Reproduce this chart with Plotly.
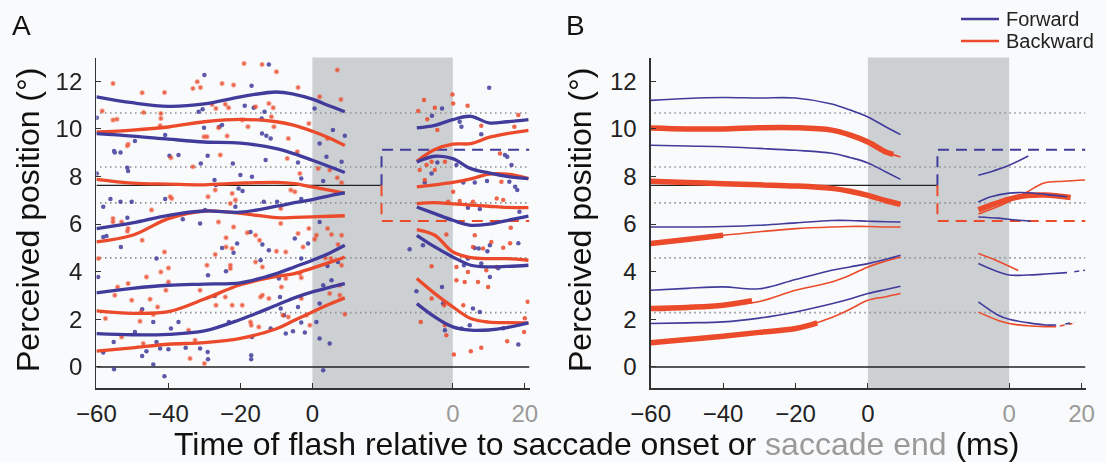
import plotly.graph_objects as go

# ---------------- constants of the layout of the time axis ----------------
GAP = 39.0          # saccade duration (ms) shown as the gray band
AX_END_A = 60.3
AX_END_B = 60.1

# ---------------- reference levels (deg) ----------------
TARGET_LEVELS = [10.67, 8.40, 6.89, 4.58, 2.28]
FIX_LEVEL = 7.63
FWD_LEVEL = 9.12
BWD_LEVEL = 6.13
STEP_T = 19.2

# ---------------- Panel A: smoothed fits ----------------
PRE_T = [-60, -50, -40, -30, -20, -10, -5, 0, 5, 9]
A_PRE_BLUE = [
    [11.35, 11.10, 10.95, 11.05, 11.35, 11.55, 11.45, 11.25, 10.95, 10.72],
    [9.80, 9.70, 9.57, 9.45, 9.40, 9.17, 8.95, 8.68, 8.40, 8.17],
    [5.81, 6.05, 6.37, 6.55, 6.50, 6.75, 6.90, 7.03, 7.20, 7.31],
    [3.11, 3.30, 3.43, 3.48, 3.53, 3.92, 4.20, 4.48, 4.80, 5.11],
    [1.40, 1.35, 1.37, 1.51, 1.99, 2.59, 2.90, 3.15, 3.35, 3.50],
]
A_PRE_RED = [
    [9.87, 9.95, 10.08, 10.30, 10.40, 10.30, 10.15, 9.90, 9.60, 9.30],
    [7.88, 7.72, 7.68, 7.65, 7.72, 7.75, 7.70, 7.56, 7.42, 7.30],
    [5.25, 5.53, 6.23, 6.55, 6.45, 6.27, 6.28, 6.30, 6.33, 6.35],
    [2.35, 2.25, 2.32, 2.85, 3.45, 3.80, 3.92, 4.15, 4.40, 4.62],
    [0.66, 0.80, 0.95, 1.02, 1.20, 1.60, 1.96, 2.31, 2.65, 2.90],
]
POST_T = [-10, -5, 0, 5, 10, 15, 21]
A_POST_BLUE = [
    [10.04, 10.15, 10.39, 10.53, 10.25, 10.30, 10.39],
    [8.61, 8.85, 8.75, 8.33, 8.15, 8.00, 7.91],
    [6.72, 6.44, 6.16, 5.95, 6.00, 6.15, 6.33],
    [5.53, 5.04, 4.62, 4.27, 4.20, 4.22, 4.27],
    [2.66, 2.10, 1.68, 1.54, 1.55, 1.65, 1.85],
]
A_POST_RED = [
    [8.64, 9.13, 9.36, 9.38, 9.64, 9.80, 9.94],
    [7.56, 7.65, 7.75, 7.90, 8.10, 8.10, 7.91],
    [6.86, 6.90, 6.85, 6.80, 6.75, 6.70, 6.69],
    [5.77, 5.53, 4.83, 4.59, 4.55, 4.55, 4.48],
    [3.71, 3.08, 2.52, 2.03, 1.88, 1.86, 1.85],
]

# ---------------- Panel A: single-trial data points ----------------
A_PRE_BLUE_T = [-30.0, -12.1, -16.9, -59.9, -31.6, -30.5, -18.8, -16.3, -14.1, -13.3, -30.1, -25.8, -25.1, -40.9,
                -49.3, -55.1, -54.9, -53.3, -14.0, -12.8, -11.6, -37.2, -39.7, -29.1, -31.0, -22.1, -13.0, -51.4,
                -51.2, -59.9, -20.0, -16.8, -27.2, -26.8, -20.5, -19.4, -40.9, -56.1, -58.1, -53.3, -50.2, -21.4,
                -13.5, -29.8, -9.8, -51.4,
                -58.1, -57.2, -53.2, -59.5, -43.3, -47.3, -44.2, -49.3, -55.2, -58.1, -47.3, -46.1, -43.3, -42.3,
                -40.0, -44.2, -55.1, -41.1, -37.2, -39.3, -35.2, -31.2, -29.1, -29.0, -27.2, -25.1, -21.9, -20.9,
                -24.0, -29.0, -36.0, -31.2, -13.9, -12.1, -14.4, -16.8, -17.0, -17.0, -23.2, -9.3, -9.0, -8.8,
                -7.4, -7.9, -11.6, -17.2,
                0.6, 5.7, 2.0, 9.0, 3.9, 8.1, -4.0, -3.1, 3.0, -3.1,
                2.0, -4.9, -1.2, -3.1, 4.2, 7.1, 5.3, 3.0, -4.0, 2.0, 1.1, -3.1, -5.4, -2.1, 2.0, 4.8, 3.0]
A_PRE_BLUE_Y = [12.26, 12.71, 11.81, 10.47, 10.72, 10.83, 10.97, 10.89, 10.44, 10.72, 10.05, 10.09, 10.16, 9.74,
                9.49, 9.07, 9.01, 9.01, 9.81, 9.71, 9.60, 8.90, 8.87, 8.87, 8.55, 8.55, 8.69, 8.37,
                8.23, 8.13, 8.06, 7.99, 7.85, 7.64, 7.50, 7.39, 7.05, 7.05, 6.73, 6.94, 6.94, 6.73,
                6.94, 6.59, 6.94, 6.27,
                5.46, 5.50, 5.04, 3.78, 4.55, 2.42, 1.89, 1.47, 1.05, 0.60, 0.46, 0.66, 1.05, 0.77,
                0.74, 0.10, -0.10, -0.39, 1.89, 1.61, 0.80, 0.77, 0.63, 0.32, 2.98, 5.00, 4.80, 5.18,
                4.02, 3.85, 6.20, 6.02, 5.14, 4.90, 4.48, 1.26, 0.49, 0.32, 1.89, 3.71, 2.94, 2.45,
                1.40, 2.17, 1.61, 5.67,
                10.86, 9.95, 9.39, 9.71, 8.83, 8.62, 8.59, 7.92, 7.81, 7.05,
                6.09, 5.39, 5.18, 4.55, 4.24, 4.41, 3.64, 3.43, 2.52, 2.66, 1.89, 1.86, 1.50, 1.44, 1.19, 0.98, -0.14]

A_PRE_RED_T = [-55.4, -47.3, -41.1, -33.2, -32.0, -31.1, -25.1, -21.9, -19.0, -14.0, -10.0, -58.4, -54.3, -55.4,
               -46.9, -42.1, -42.1, -42.3, -27.9, -26.8, -26.1, -24.2, -23.3, -19.5, -17.9, -15.8, -12.1, -10.9,
               -11.4, -10.7, -6.7, -51.2, -51.4, -39.3, -30.1, -29.3, -23.7, -25.6, -33.2, -7.0, -39.5, -39.1,
               -29.0, -27.0, -22.8, -22.3, -21.4, -55.4, -44.7, -8.8, -6.0,
               -51.2, -51.4, -47.3, -55.4, -53.0, -41.1, -59.4, -40.0, -42.1, -46.1, -51.2, -54.1, -54.9, -50.2,
               -45.1, -43.0, -57.5, -47.9, -44.2, -53.0, -47.0, -34.0, -30.0, -32.6, -34.4, -24.0, -24.0, -27.0,
               -22.3, -22.8, -22.8, -29.3, -31.2, -27.0, -26.8, -24.2, -22.3, -19.5, -18.1, -15.8, -14.7, -15.8,
               -13.9, -14.4, -13.9, -17.2, -17.0, -14.9, -12.1, -10.0, -8.8, -7.4, -7.4, -8.6, -8.2, -6.7,
               -21.9, -26.1, -40.0, -40.7, -47.6,
               6.9, -4.0, 2.0, 7.9, -1.0, 4.2, -4.2, -3.5, 1.6, 4.8, 6.9, 8.1, -4.9, 6.7,
               -4.0, -1.0, -2.6, 1.1, 0.6, 4.2, 5.3, 8.1, 7.1, 3.6, 5.1, -3.5, 8.1, -3.1, 4.8, 7.6, 7.6, -3.1,
               9.0, -1.7, -0.7]
A_PRE_RED_Y = [11.91, 11.52, 11.53, 11.70, 11.98, 11.74, 11.91, 11.84, 12.75, 12.71, 12.40, 10.75, 10.41, 10.37,
               10.69, 10.65, 10.44, 10.13, 11.03, 10.86, 10.05, 11.04, 10.89, 10.37, 10.09, 10.93, 11.07, 10.89,
               10.51, 10.09, 9.60, 9.35, 9.29, 8.79, 9.67, 9.67, 9.70, 8.90, 8.41, 8.76, 7.15, 7.08,
               7.15, 7.43, 6.87, 7.29, 7.01, 6.24, 6.59, 6.66, 7.43,
               5.81, 5.70, 5.32, 6.09, 6.09, 4.83, 4.55, 4.16, 3.99, 3.78, 3.50, 3.36, 3.01, 2.80,
               2.84, 2.52, 2.03, 1.92, 2.20, 1.26, 0.98, 0.35, 0.14, 1.12, 1.54, 5.43, 5.04, 4.72,
               4.97, 4.27, 4.13, 4.27, 3.22, 3.01, 2.59, 2.94, 2.59, 2.59, 5.64, 5.53, 5.32, 4.41,
               4.20, 2.94, 3.01, 1.89, 1.75, 1.68, 2.87, 4.86, 6.02, 4.83, 3.71, 3.36, 2.17, 2.10,
               5.88, 6.09, 3.57, 3.22, 2.31,
               12.47, 11.74, 11.35, 11.24, 10.23, 9.60, 9.04, 8.13, 8.34, 8.27, 7.95, 7.74, 7.36, 7.33,
               5.60, 5.81, 5.04, 5.53, 5.36, 5.81, 5.56, 5.53, 5.14, 4.58, 4.55, 3.92, 4.27, 3.74, 3.08, 3.43, 3.01, 2.87,
               2.21, 2.17, 1.75]

A_POST_BLUE_T = [-5.8, -3.0, 10.1, 1.9, 2.4, 7.9, -4.3, 1.0, -5.9, -7.8, 2.9, 6.1, 9.5, 4.2, 7.5,
                 -12.0, -8.3, 6.1, 7.2, 9.6, 10.3, 4.2, 3.1, 7.9, 10.3, -10.1, -3.0, -2.7, 5.6, 7.5, -2.2, 2.4, 4.7,
                 14.5, 15.1, 16.3, 17.3, 17.9, 15.7, 18.5, 18.2, 12.6, 18.2, 14.0]
A_POST_BLUE_Y = [10.55, 10.86, 11.73, 10.30, 10.09, 9.77, 8.59, 8.48, 8.13, 7.75, 7.75, 7.75, 7.81, 6.69, 6.63,
                 4.94, 5.11, 5.00, 4.97, 4.86, 5.11, 4.55, 4.27, 4.34, 3.78, 3.18, 3.36, 2.66, 2.45, 2.31, 1.54, 1.61, 1.75,
                 8.90, 8.83, 8.48, 7.57, 7.43, 7.78, 6.52, 5.19, 4.14, 0.94, 1.62]
A_POST_RED_T = [-8.0, -5.0, -7.1, -9.6, -0.1, 0.1, 4.1, -4.3, 7.9, -5.9, -2.2, -7.3, -9.2, -5.0, 0.1, -7.8,
                -1.3, 1.9, 5.6,
                -1.8, 6.1, -5.9, 1.0, 5.6, 8.4, 10.7, 4.2, 9.3, 12.1, 1.0, 3.3, 7.0, 9.8, -5.9, -2.4, 2.9, -8.9,
                -2.2, -1.8, 0.3, 5.0, 7.9,
                18.2, 17.1, 13.1, 13.5, 12.2, 14.0, 16.1, 15.9, 14.0, 20.8, 20.0, 19.8, 15.1]
A_POST_RED_Y = [11.21, 10.89, 10.41, 10.75, 11.45, 11.07, 10.97, 9.95, 10.13, 8.62, 8.62, 8.48, 8.27, 8.27, 7.36, 7.85,
                6.94, 6.97, 6.94,
                5.56, 5.53, 4.23, 4.20, 5.04, 4.97, 5.25, 3.99, 4.06, 4.20, 3.64, 3.57, 3.57, 3.36, 2.87, 2.59, 2.59, 1.89,
                1.75, 1.33, 0.52, 0.66, 0.80,
                10.58, 10.09, 8.97, 7.78, 7.08, 7.01, 5.85, 5.19, 5.01, 2.74, 2.04, 1.47, 1.08]

# ---------------- Panel B: model curves ----------------
B_PRE_BLUE = [
    [11.20, 11.28, 11.32, 11.30, 11.30, 11.05, 10.80, 10.50, 10.08, 9.76],
    [9.31, 9.28, 9.25, 9.18, 9.10, 8.98, 8.80, 8.57, 8.19, 7.88],
    [5.88, 5.88, 5.90, 5.95, 6.05, 6.15, 6.15, 6.12, 6.10, 6.09],
    [3.22, 3.30, 3.36, 3.28, 3.67, 4.06, 4.20, 4.34, 4.52, 4.69],
    [1.82, 1.85, 1.89, 2.05, 2.31, 2.65, 2.85, 3.08, 3.25, 3.39],
]
B_PRE_RED = [
    [10.04, 10.00, 10.00, 10.05, 10.05, 9.95, 9.75, 9.45, 9.03, 8.82],
    [7.80, 7.75, 7.70, 7.65, 7.60, 7.50, 7.38, 7.21, 6.98, 6.83],
    [5.18, 5.35, 5.53, 5.68, 5.81, 5.88, 5.90, 5.90, 5.88, 5.88],
    [2.45, 2.50, 2.59, 2.75, 3.22, 3.57, 3.85, 4.20, 4.45, 4.62],
    [1.01, 1.15, 1.29, 1.45, 1.61, 2.08, 2.42, 2.80, 2.95, 3.08],
]
# thick (significant) stretches of the red curves
B_THICK_T = [
    [-60, -50, -40, -30, -20, -10, -5, 0, 5, 7],
    [-60, -50, -40, -30, -20, -10, -5, 0, 5, 9],
    [-60, -50, -40],
    [-60, -50, -40, -32],
    [-60, -50, -40, -30, -20, -14],
]
B_THICK_Y = [
    [10.04, 10.00, 10.00, 10.05, 10.05, 9.95, 9.75, 9.45, 9.03, 8.93],
    [7.80, 7.75, 7.70, 7.65, 7.60, 7.50, 7.38, 7.21, 6.98, 6.83],
    [5.18, 5.35, 5.53],
    [2.45, 2.50, 2.59, 2.78],
    [1.01, 1.15, 1.29, 1.45, 1.61, 1.85],
]
# post-saccadic pieces (t relative to saccade end)
B_POST_BLUE_T = [[-8.5, -5, 0, 5.3], [-8.5, -5, 0, 5, 10, 16], [-8.5, -3, 2, 6],
                 [-8.5, -4, 0, 5, 10, 16], [-8.5, -3, 0, 5, 10, 13]]
B_POST_BLUE_Y = [[8.05, 8.20, 8.47, 8.86], [6.93, 7.15, 7.30, 7.32, 7.25, 7.15], [6.30, 6.25, 6.17, 6.12],
                 [4.34, 4.05, 3.86, 3.86, 3.90, 3.96], [2.73, 2.17, 2.00, 1.86, 1.76, 1.76]]
B_POST_RED_T = [[-8.5, -5, 0, 5, 9.5, 15, 21], [-8.5, -4, 2.5], [-8.5, -3, 0, 5, 10, 13]]
B_POST_RED_Y = [[6.42, 6.62, 6.95, 7.35, 7.72, 7.80, 7.85], [4.76, 4.50, 4.05],
                [2.30, 1.95, 1.82, 1.73, 1.69, 1.69]]
B_POST_RED_THICK_T = [-8.5, -5, 0, 5, 10, 17]
B_POST_RED_THICK_Y = [6.60, 6.80, 7.05, 7.20, 7.22, 7.12]
B_POST_BLUE_DASH_T = [[18, 21], [15.5, 18]]
B_POST_BLUE_DASH_Y = [[4.00, 4.06], [1.80, 1.87]]
B_POST_RED_DASH_T = [14, 17.5]
B_POST_RED_DASH_Y = [1.72, 1.82]

# ---------------- tick labels ----------------
X_TICK_VALS = [-60, -40, -20, 0, 0 + GAP, 20 + GAP]
X_TICK_TEXT = ['\u221260', '\u221240', '\u221220', '0',
               '<span style="color:#9a9a9a">0</span>', '<span style="color:#9a9a9a">20</span>']
Y_TICK_VALS = [0, 2, 4, 6, 8, 10, 12]

BLUE = '#413c9c'
RED = '#eb4a2b'
GRAYBAND = '#cdd0d3'
BG = '#f9fafb'
FONT = 'Liberation Sans, Arial, Helvetica, sans-serif'

W, H = 1106, 462
fig = go.Figure()


def post(ts):
    return [t + GAP for t in ts]


def add(xa, ya, x, y, color, width, dash='solid', mode='lines', shape='spline', size=4, opacity=1.0):
    if mode == 'lines':
        fig.add_trace(go.Scatter(x=x, y=y, mode='lines', xaxis=xa, yaxis=ya, showlegend=False,
                                 hoverinfo='skip',
                                 line=dict(color=color, width=width, dash=dash, shape=shape, smoothing=1.0)))
    else:
        fig.add_trace(go.Scatter(x=x, y=y, mode='markers', xaxis=xa, yaxis=ya, showlegend=False,
                                 hoverinfo='skip', opacity=opacity,
                                 marker=dict(color=color, size=size, line=dict(width=0))))


for xa, ya, xend in (('x', 'y', AX_END_A), ('x2', 'y2', AX_END_B)):
    # dotted target levels
    for lv in TARGET_LEVELS:
        add(xa, ya, [-59, xend], [lv, lv], '#8f8f8f', 1.6, dash='1.5px,3.5px', shape='linear')
    # zero line and fixation / saccade-target step
    add(xa, ya, [-60, xend], [0, 0], '#222222', 1.5, shape='linear')
    add(xa, ya, [-60, STEP_T], [FIX_LEVEL, FIX_LEVEL], '#222222', 1.3, shape='linear')
    add(xa, ya, [STEP_T, STEP_T, xend], [FIX_LEVEL, FWD_LEVEL, FWD_LEVEL], BLUE, 2.0,
        dash='11px,7px', shape='linear')
    add(xa, ya, [STEP_T, STEP_T, xend], [FIX_LEVEL, BWD_LEVEL, BWD_LEVEL], RED, 2.0,
        dash='11px,7px', shape='linear')

# ---- Panel A ----
add('x', 'y', A_PRE_BLUE_T, A_PRE_BLUE_Y, BLUE, 0, mode='markers', size=4.5, opacity=0.85)
add('x', 'y', A_PRE_RED_T, A_PRE_RED_Y, RED, 0, mode='markers', size=4.5, opacity=0.85)
add('x', 'y', post(A_POST_BLUE_T), A_POST_BLUE_Y, BLUE, 0, mode='markers', size=4.5, opacity=0.85)
add('x', 'y', post(A_POST_RED_T), A_POST_RED_Y, RED, 0, mode='markers', size=4.5, opacity=0.85)
for yy in A_PRE_RED:
    add('x', 'y', PRE_T, yy, RED, 3.3)
for yy in A_PRE_BLUE:
    add('x', 'y', PRE_T, yy, BLUE, 3.3)
for yy in A_POST_RED:
    add('x', 'y', post(POST_T), yy, RED, 3.3)
for yy in A_POST_BLUE:
    add('x', 'y', post(POST_T), yy, BLUE, 3.3)

# ---- Panel B ----
for yy in B_PRE_RED:
    add('x2', 'y2', PRE_T, yy, RED, 1.6)
for tt, yy in zip(B_THICK_T, B_THICK_Y):
    add('x2', 'y2', tt, yy, RED, 5.5)
for yy in B_PRE_BLUE:
    add('x2', 'y2', PRE_T, yy, BLUE, 1.6)
for tt, yy in zip(B_POST_RED_T, B_POST_RED_Y):
    add('x2', 'y2', post(tt), yy, RED, 1.6)
add('x2', 'y2', post(B_POST_RED_THICK_T), B_POST_RED_THICK_Y, RED, 5.5)
add('x2', 'y2', post(B_POST_RED_DASH_T), B_POST_RED_DASH_Y, RED, 1.6, dash='5px,4px', shape='linear')
for tt, yy in zip(B_POST_BLUE_T, B_POST_BLUE_Y):
    add('x2', 'y2', post(tt), yy, BLUE, 1.6)
for tt, yy in zip(B_POST_BLUE_DASH_T, B_POST_BLUE_DASH_Y):
    add('x2', 'y2', post(tt), yy, BLUE, 1.6, dash='5px,4px', shape='linear')

# ---------------- layout ----------------
YDOM = [(H - 388.3) / H, (H - 57.5) / H]
XDOM_A = [96.4 / W, 529.5 / W]
XDOM_B = [650.7 / W, 1085.5 / W]

axis_common = dict(showline=True, linecolor='#333333', linewidth=1.3, ticks='inside', ticklen=5,
                   tickwidth=1.1, tickcolor='#333333', showgrid=False, zeroline=False, automargin=False,
                   tickfont=dict(family=FONT, size=24, color='#222222'), fixedrange=True)

fig.update_layout(
    template='none',
    width=W, height=H, autosize=False,
    margin=dict(l=0, r=0, t=0, b=0, pad=0),
    paper_bgcolor=BG, plot_bgcolor=BG,
    xaxis=dict(domain=XDOM_A, range=[-60, AX_END_A], anchor='y', tickmode='array',
               tickvals=X_TICK_VALS, ticktext=X_TICK_TEXT, ticklabelstandoff=4, **axis_common),
    yaxis=dict(domain=YDOM, range=[-0.9, 13.0], anchor='x', tickmode='array',
               tickvals=Y_TICK_VALS, ticklabelstandoff=8, **axis_common),
    xaxis2=dict(domain=XDOM_B, range=[-60, AX_END_B], anchor='y2', tickmode='array',
                tickvals=X_TICK_VALS, ticktext=X_TICK_TEXT, ticklabelstandoff=4, **axis_common),
    yaxis2=dict(domain=YDOM, range=[-0.9, 13.0], anchor='x2', tickmode='array',
                tickvals=Y_TICK_VALS, ticklabelstandoff=8, **axis_common),
    showlegend=False,
)

shapes = []
for xr in ('x', 'x2'):
    shapes.append(dict(type='rect', xref=xr, yref='paper', x0=0, x1=GAP, y0=YDOM[0], y1=YDOM[1],
                       fillcolor=GRAYBAND, line=dict(width=0), layer='below'))
# legend swatches
shapes.append(dict(type='line', xref='paper', yref='paper', x0=961 / W, x1=999 / W,
                   y0=1 - 19 / H, y1=1 - 19 / H, line=dict(color=BLUE, width=2.6)))
shapes.append(dict(type='line', xref='paper', yref='paper', x0=961 / W, x1=999 / W,
                   y0=1 - 41 / H, y1=1 - 41 / H, line=dict(color=RED, width=2.6)))
fig.update_layout(shapes=shapes)

ann = [
    dict(text='A', x=11 / W, y=1 - 25 / H, xanchor='left', yanchor='middle',
         font=dict(family=FONT, size=28, color='#111111')),
    dict(text='B', x=565 / W, y=1 - 25 / H, xanchor='left', yanchor='middle',
         font=dict(family=FONT, size=28, color='#111111')),
    dict(text='Perceived position (°)', x=28 / W, y=1 - 220 / H, textangle=-90,
         xanchor='center', yanchor='middle', font=dict(family=FONT, size=32, color='#111111')),
    dict(text='Perceived position (°)', x=580 / W, y=1 - 220 / H, textangle=-90,
         xanchor='center', yanchor='middle', font=dict(family=FONT, size=32, color='#111111')),
    dict(text='Time of flash relative to saccade onset or <span style="color:#9a9a9a">saccade end</span> (ms)',
         x=596 / W, y=1 - 444 / H, xanchor='center', yanchor='middle',
         font=dict(family=FONT, size=32, color='#111111')),
    dict(text='Forward', x=1005 / W, y=1 - 19 / H, xanchor='left', yanchor='middle',
         font=dict(family=FONT, size=20, color='#222222')),
    dict(text='Backward', x=1005 / W, y=1 - 41 / H, xanchor='left', yanchor='middle',
         font=dict(family=FONT, size=20, color='#222222')),
]
for a in ann:
    a.update(xref='paper', yref='paper', showarrow=False, borderpad=0)
fig.update_layout(annotations=ann)

fig.write_html('out.html', include_plotlyjs=True,
               config={'displayModeBar': False, 'staticPlot': True},
               post_script="document.body.style.margin='0';document.body.style.overflow='hidden';")
